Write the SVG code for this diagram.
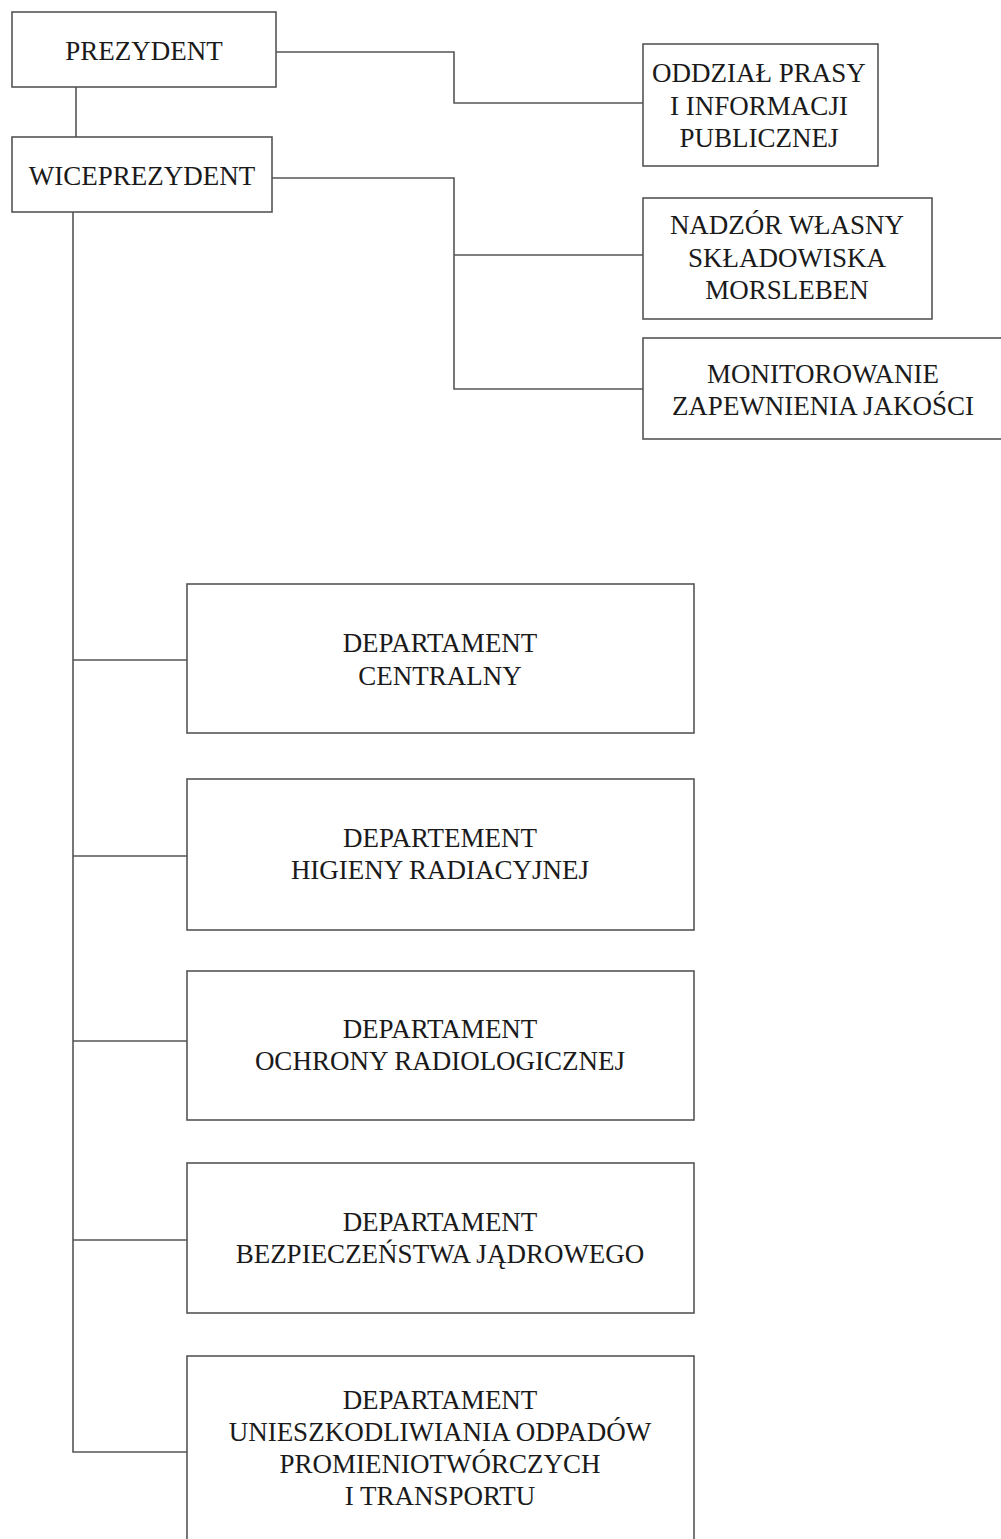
<svg xmlns="http://www.w3.org/2000/svg" width="1001" height="1539" viewBox="0 0 1001 1539">
<style>
.box{fill:#fff;stroke:#555;stroke-width:1.6}
.ln{fill:none;stroke:#555;stroke-width:1.6}
text{font-family:"Liberation Serif","Times New Roman",serif;font-size:27px;fill:#1a1a1a;text-anchor:middle}
</style>
<rect width="1001" height="1539" fill="#fff"/>
<g id="connectors">
<polyline class="ln" points="276,52 454,52 454,103 643,103"/>
<line class="ln" x1="76" y1="87" x2="76" y2="137"/>
<polyline class="ln" points="272,178 454,178 454,389 643,389"/>
<line class="ln" x1="454" y1="255" x2="643" y2="255"/>
<polyline class="ln" points="73,212 73,1452 187,1452"/>
<line class="ln" x1="73" y1="660" x2="187" y2="660"/>
<line class="ln" x1="73" y1="856" x2="187" y2="856"/>
<line class="ln" x1="73" y1="1041" x2="187" y2="1041"/>
<line class="ln" x1="73" y1="1240" x2="187" y2="1240"/>
</g>
<g id="prezydent">
<rect class="box" x="12" y="12" width="264" height="75"/>
<text x="144" y="60">PREZYDENT</text>
</g>
<g id="wiceprezydent">
<rect class="box" x="12" y="137" width="260" height="75"/>
<text x="142" y="185">WICEPREZYDENT</text>
</g>
<g id="oddzial">
<rect class="box" x="643" y="44" width="235" height="122"/>
<text x="759" y="82">ODDZIAŁ PRASY</text>
<text x="759" y="115">I INFORMACJI</text>
<text x="759" y="147">PUBLICZNEJ</text>
</g>
<g id="nadzor">
<rect class="box" x="643" y="198" width="289" height="121"/>
<text x="787" y="234">NADZÓR WŁASNY</text>
<text x="787" y="267">SKŁADOWISKA</text>
<text x="787" y="299">MORSLEBEN</text>
</g>
<g id="monitorowanie">
<rect class="box" x="643" y="338" width="362" height="101"/>
<text x="823" y="383">MONITOROWANIE</text>
<text x="823" y="415">ZAPEWNIENIA JAKOŚCI</text>
</g>
<g id="dep-centralny">
<rect class="box" x="187" y="584" width="507" height="149"/>
<text x="440" y="652">DEPARTAMENT</text>
<text x="440" y="685">CENTRALNY</text>
</g>
<g id="dep-higieny">
<rect class="box" x="187" y="779" width="507" height="151"/>
<text x="440" y="847">DEPARTEMENT</text>
<text x="440" y="879">HIGIENY RADIACYJNEJ</text>
</g>
<g id="dep-ochrony">
<rect class="box" x="187" y="971" width="507" height="149"/>
<text x="440" y="1038">DEPARTAMENT</text>
<text x="440" y="1070">OCHRONY RADIOLOGICZNEJ</text>
</g>
<g id="dep-bezpieczenstwa">
<rect class="box" x="187" y="1163" width="507" height="150"/>
<text x="440" y="1231">DEPARTAMENT</text>
<text x="440" y="1263">BEZPIECZEŃSTWA JĄDROWEGO</text>
</g>
<g id="dep-unieszkodliwiania">
<rect class="box" x="187" y="1356" width="507" height="200"/>
<text x="440" y="1409">DEPARTAMENT</text>
<text x="440" y="1441">UNIESZKODLIWIANIA ODPADÓW</text>
<text x="440" y="1473">PROMIENIOTWÓRCZYCH</text>
<text x="440" y="1505">I TRANSPORTU</text>
</g>
</svg>
